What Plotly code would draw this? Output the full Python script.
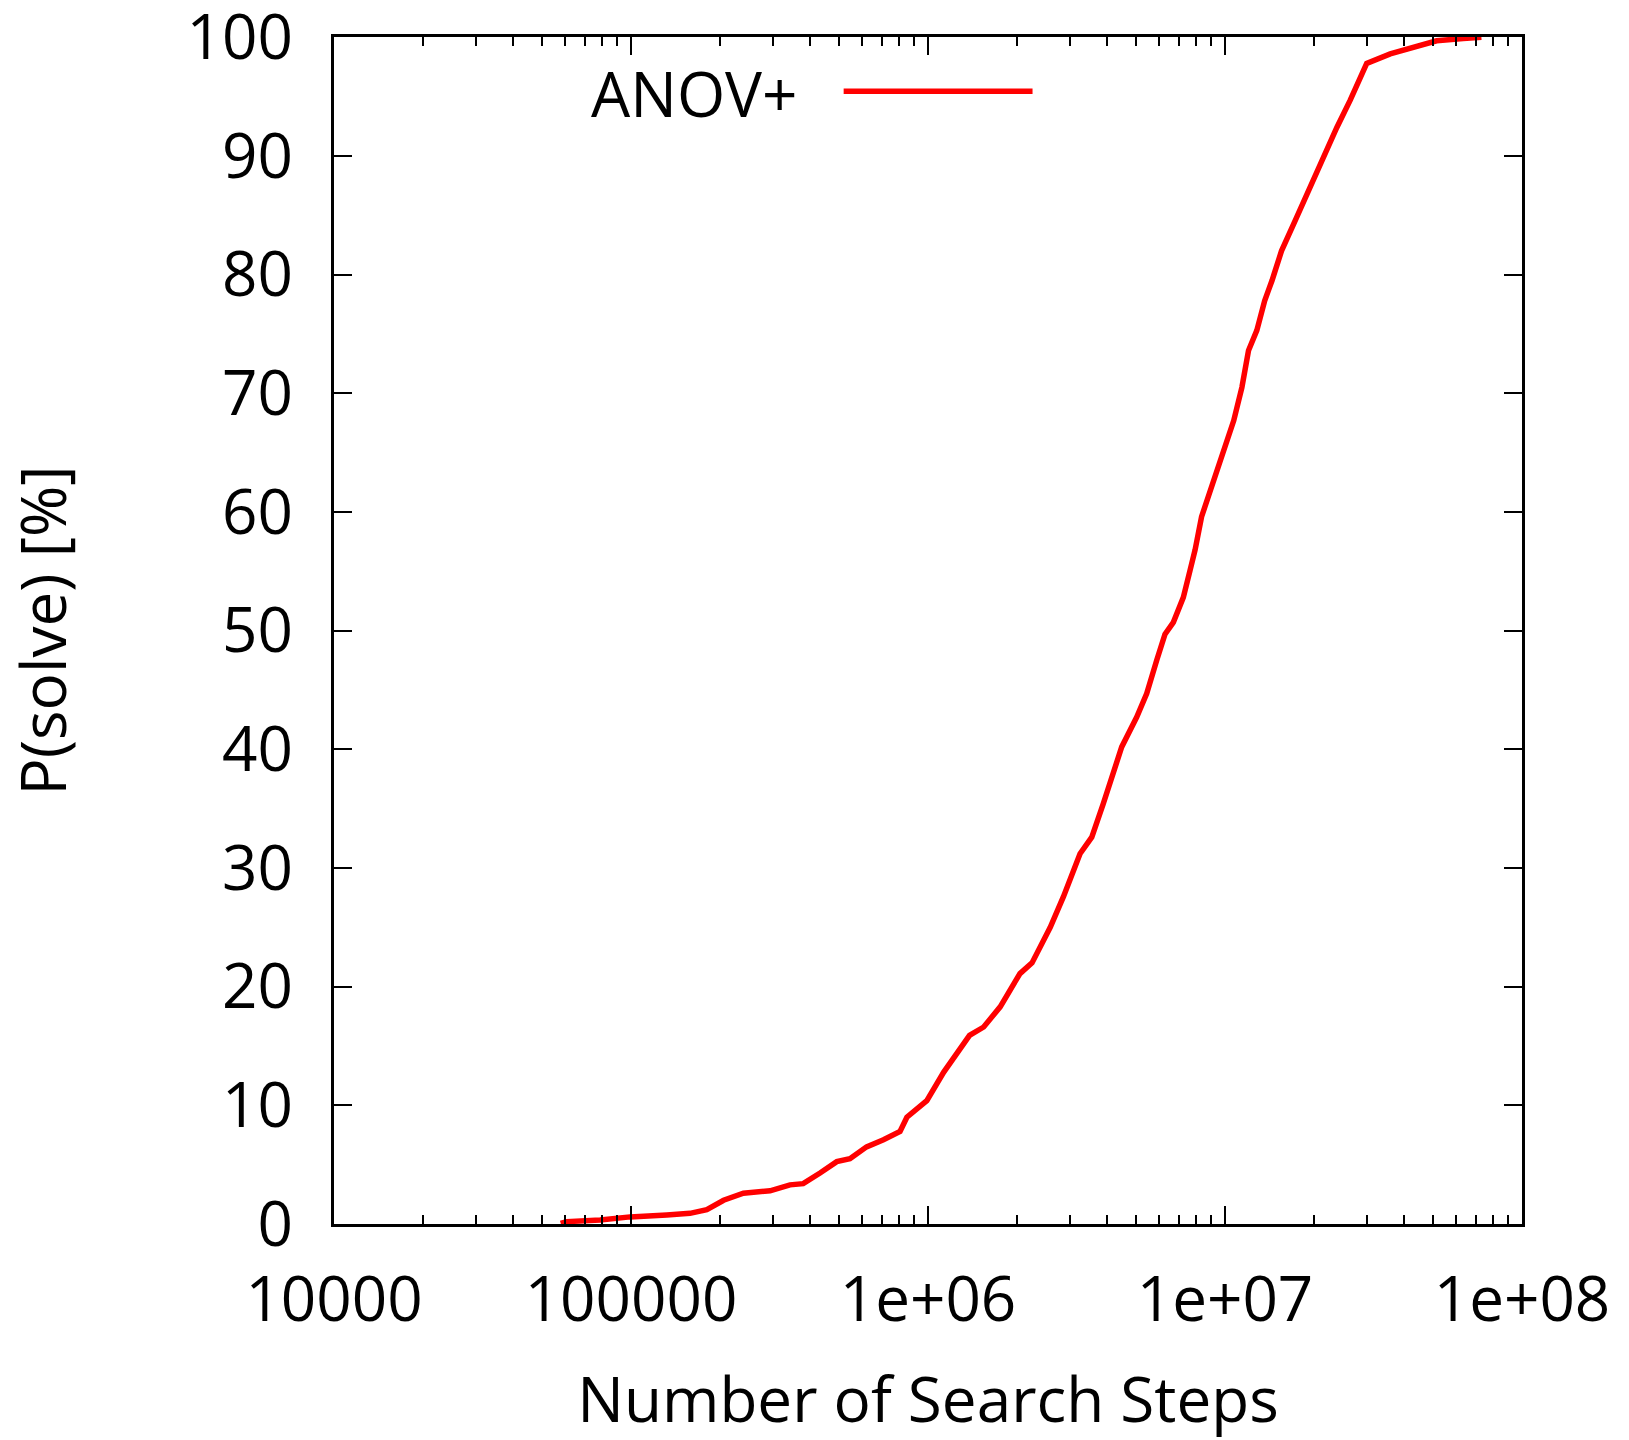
import plotly.graph_objects as go

steps = [58e3, 60.7e3, 78.7e3, 99.3e3, 132e3, 158e3, 180e3, 205e3, 239e3, 294e3, 343e3, 380e3,
         433e3, 493e3, 546e3, 621e3, 708e3, 805e3, 849e3, 991e3, 1.13e6, 1.25e6, 1.38e6,
         1.54e6, 1.75e6, 2.04e6, 2.24e6, 2.58e6, 2.86e6, 3.25e6, 3.56e6, 3.89e6, 4.20e6,
         4.49e6, 5.04e6, 5.45e6, 5.89e6, 6.28e6, 6.70e6, 7.24e6, 7.63e6, 7.93e6, 8.34e6,
         9.14e6, 9.87e6, 10.7e6, 11.4e6, 12.0e6, 12.8e6, 13.6e6, 14.4e6, 15.5e6, 17.2e6,
         19.3e6, 22.0e6, 23.8e6, 26.4e6, 28.5e6, 30.0e6, 36e6, 44.2e6, 51.6e6, 63.4e6, 73e6]
p_solve = [0.05, 0.2, 0.34, 0.6, 0.76, 0.9, 1.2, 2.0, 2.6, 2.8, 3.3, 3.4,
           4.3, 5.25, 5.5, 6.5, 7.1, 7.8, 9.0, 10.4, 12.8, 14.4, 15.9,
           16.6, 18.3, 21.1, 22.0, 25.0, 27.6, 31.2, 32.6, 35.4, 38.0,
           40.2, 42.7, 44.7, 47.5, 49.7, 50.7, 52.8, 55.1, 56.8, 59.6,
           62.7, 65.2, 67.7, 70.5, 73.6, 75.3, 77.8, 79.5, 82.0, 84.5,
           87.4, 90.5, 92.4, 94.7, 96.6, 97.8, 98.6, 99.2, 99.7, 99.9, 100.0]

x_tickvals = [1e4, 1e5, 1e6, 1e7, 1e8]
x_ticktext = ["10000", "100000", "1e+06", "1e+07", "1e+08"]
y_tickvals = [0, 10, 20, 30, 40, 50, 60, 70, 80, 90, 100]
y_ticktext = ["0", "10", "20", "30", "40", "50", "60", "70", "80", "90", "100"]
series_name = "ANOV+"

FONT = "Open Sans"
FS = 62

fig = go.Figure()
fig.add_trace(go.Scatter(x=steps, y=p_solve, mode="lines", name=series_name,
                         line=dict(color="#ff0000", width=5.5), showlegend=False))

axis_common = dict(showgrid=False, zeroline=False, showline=True, linecolor="black",
                   linewidth=2.5, mirror="ticks", ticks="inside", ticklen=18, tickwidth=2,
                   tickcolor="black", ticklabeloverflow="allow",
                   tickfont=dict(family=FONT, size=FS, color="black"))

fig.update_xaxes(type="log", range=[4, 8], tickvals=x_tickvals, ticktext=x_ticktext,
                 minor=dict(ticks="inside", ticklen=9, tickwidth=2, tickcolor="black",
                            dtick="D1", showgrid=False),
                 ticklabelstandoff=20,
                 title=dict(text="Number of Search Steps", font=dict(family=FONT, size=FS, color="black"),
                            standoff=62),
                 **axis_common)
fig.update_yaxes(range=[0, 100.02], tickvals=y_tickvals, ticktext=y_ticktext, ticklabelstandoff=26,
                 title=dict(text="P(solve) [%]", font=dict(family=FONT, size=FS, color="black"),
                            standoff=135),
                 **axis_common)

# gnuplot-style key: label followed by a line sample
fig.add_annotation(xref="paper", yref="paper", x=0.392, y=0.9526, text=series_name,
                   showarrow=False, xanchor="right", yanchor="middle",
                   font=dict(family=FONT, size=FS, color="black"))
fig.add_shape(type="line", xref="paper", yref="paper", x0=0.429, x1=0.588, y0=0.9543, y1=0.9543,
              line=dict(color="#ff0000", width=5.5))

fig.update_layout(width=1629, height=1440, plot_bgcolor="white", paper_bgcolor="white",
                  margin=dict(l=334, r=107, t=37, b=216, autoexpand=False))

fig.write_html("out.html")
